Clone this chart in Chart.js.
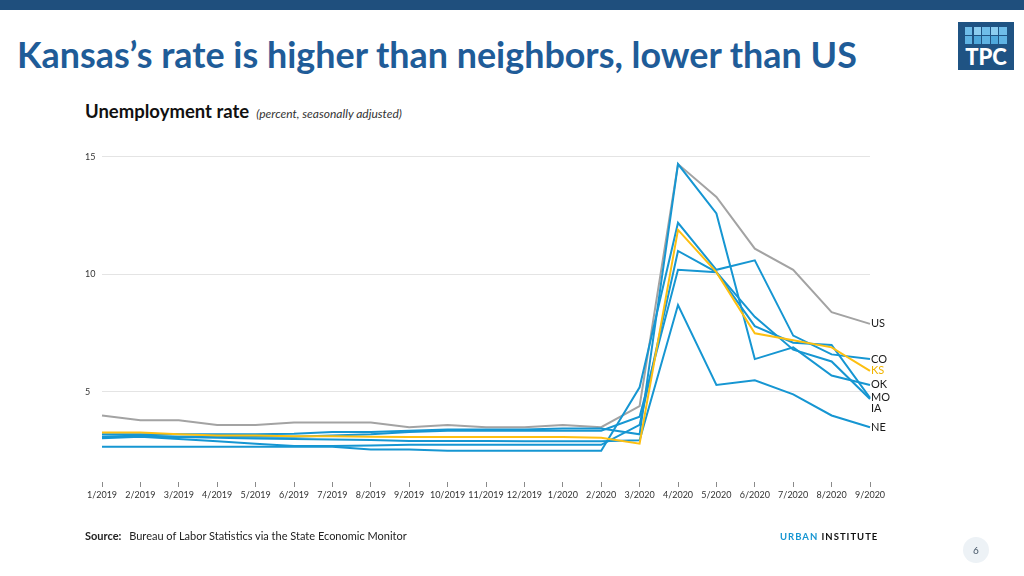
<!DOCTYPE html>
<html><head><meta charset="utf-8">
<script src="https://cdn.jsdelivr.net/npm/chart.js@4.4.1/dist/chart.umd.min.js"></script>
<style>
html,body{margin:0;padding:0;background:#fff;}
body{width:1024px;height:576px;position:relative;overflow:hidden;font-family:Lato,sans-serif;}
#bar{position:absolute;left:0;top:0;width:1024px;height:10px;background:#1f4f7d;}
#title{position:absolute;left:17px;top:34px;font-family:Lato;font-weight:700;font-size:36px;color:#1f5c98;white-space:nowrap;line-height:42px;}
#chartTitle{position:absolute;left:85px;top:99px;white-space:nowrap;line-height:24px;color:#111;}
#chartTitle b{font-family:Lato;font-weight:700;font-size:18.5px;}
#chartTitle i{font-family:Lato;font-style:italic;font-size:12px;color:#333;margin-left:7px;}
#source{position:absolute;left:85px;top:528px;font-family:Lato;font-size:11px;color:#222;white-space:nowrap;line-height:16px;}
#source b{font-weight:700;margin-right:5px;}
#urban{position:absolute;left:780px;top:530px;font-family:Lato;font-weight:700;font-size:9.5px;letter-spacing:1px;white-space:nowrap;line-height:14px;color:#111;}
#urban span{color:#1696d2;}
#page{position:absolute;left:963px;top:537px;width:26px;height:26px;border-radius:50%;background:#edf2f6;color:#456;font-family:Lato;font-size:10px;line-height:26px;text-align:center;}
#logo{position:absolute;left:958px;top:22px;width:56px;height:48px;background:#1f5383;}
#logo .sq{position:absolute;width:7.4px;height:8px;}
#logo .t{position:absolute;left:0;top:24px;width:56px;text-align:center;color:#fff;font-family:Lato;font-weight:900;font-size:22px;line-height:22px;letter-spacing:0px;}
canvas{position:absolute;left:0;top:0;}
</style></head>
<body>
<div id="bar"></div>
<div id="title">Kansas’s rate is higher than neighbors, lower than US</div>
<div id="logo"><div class="t">TPC</div></div>
<div id="chartTitle"><b>Unemployment rate</b><i>(percent, seasonally adjusted)</i></div>
<canvas id="c" width="1024" height="576"></canvas>
<div id="source"><b>Source:</b> Bureau of Labor Statistics via the State Economic Monitor</div>
<div id="urban"><span>URBAN</span> INSTITUTE</div>
<div id="page">6</div>
<script>
const months = ['1/2019','2/2019','3/2019','4/2019','5/2019','6/2019','7/2019','8/2019','9/2019','10/2019','11/2019','12/2019','1/2020','2/2020','3/2020','4/2020','5/2020','6/2020','7/2020','8/2020','9/2020'];
const usRate = [4.0,3.8,3.8,3.6,3.6,3.7,3.7,3.7,3.5,3.6,3.5,3.5,3.6,3.5,4.4,14.7,13.3,11.1,10.2,8.4,7.9];
const ksRate = [3.28,3.28,3.2,3.15,3.15,3.12,3.12,3.1,3.08,3.08,3.08,3.08,3.08,3.05,2.8,11.9,10.1,7.5,7.2,6.9,5.9];
const coRate = [2.67,2.67,2.67,2.67,2.67,2.67,2.67,2.55,2.55,2.5,2.5,2.5,2.5,2.5,5.2,12.2,10.2,10.6,7.4,6.6,6.4];
const okRate = [3.2,3.2,3.2,3.2,3.2,3.22,3.3,3.3,3.35,3.4,3.4,3.4,3.45,3.45,3.2,14.7,12.6,6.4,6.9,5.7,5.3];
const moRate = [3.1,3.15,3.1,3.1,3.1,3.1,3.15,3.2,3.3,3.35,3.35,3.35,3.35,3.35,3.95,10.2,10.1,7.8,7.1,7.0,4.75];
const iaRate = [3.03,3.1,3.0,2.9,2.8,2.7,2.7,2.72,2.75,2.75,2.75,2.75,2.75,2.75,3.6,11.0,10.1,8.2,6.8,6.3,4.7];
const neRate = [3.1,3.1,3.08,3.05,3.02,3.0,2.98,2.96,2.92,2.92,2.92,2.9,2.9,2.9,2.95,8.7,5.3,5.5,4.9,4.0,3.5];
const seriesLabels = ['KS','CO','OK','MO','IA','NE','US'];
const yTicks = [5,10,15];

const BLUE = '#1696d2', YELLOW = '#fdbf11', GRAY = '#a3a3a3';

(function(){
  const logo = document.getElementById('logo');
  for (let r=0;r<2;r++) for (let c=0;c<5;c++){
    const d=document.createElement('div'); d.className='sq';
    d.style.left=(7+c*8.6)+'px'; d.style.top=(5+r*9.2)+'px';
    d.style.background = r===0 ? (c%2? '#8ccdf0':'#6fbde9') : (c%2? '#4ea8dc':'#5fb3e3');
    logo.appendChild(d);
  }
})();

(function(){
  const t=document.getElementById('title');
  const w=t.getBoundingClientRect().width;
  t.style.fontSize=(36*840/w).toFixed(2)+'px';
})();

const endLabels = {
  id:'endLabels',
  afterDatasetsDraw(chart){
    const ctx=chart.ctx;
    const items=[];
    chart.data.datasets.forEach((ds,i)=>{
      const meta=chart.getDatasetMeta(i);
      const pt=meta.data[meta.data.length-1];
      items.push({text:ds.label,x:pt.x,y:pt.y,color:ds.label==='KS'?'#f0b400':'#1a1a1a'});
    });
    items.sort((a,b)=>a.y-b.y);
    for(let i=1;i<items.length;i++){
      if(items[i].y-items[i-1].y<11){items[i].y=items[i-1].y+11;}
    }
    ctx.save();
    ctx.font='11px Lato';
    ctx.textBaseline='middle';
    ctx.textAlign='left';
    items.forEach(it=>{ctx.fillStyle=it.color;ctx.fillText(it.text,it.x+1,it.y);});
    ctx.restore();
  }
};

const dataMap = {KS:ksRate,CO:coRate,OK:okRate,MO:moRate,IA:iaRate,NE:neRate,US:usRate};
const datasets = seriesLabels.map(l=>({
  label:l,
  data:dataMap[l],
  borderColor: l==='KS'?YELLOW:(l==='US'?GRAY:BLUE),
  borderWidth:2,
  pointRadius:0,
  tension:0,
  fill:false
}));

new Chart(document.getElementById('c'),{
  type:'line',
  data:{labels:months,datasets},
  options:{
    responsive:false,
    animation:false,
    devicePixelRatio:1,
    layout:{padding:{left:85,right:154,top:133.5,bottom:69}},
    plugins:{legend:{display:false},tooltip:{enabled:false}},
    scales:{
      x:{
        grid:{drawOnChartArea:false,drawTicks:true,tickLength:5,color:'#8a8a8a',lineWidth:1},
        border:{display:false},
        ticks:{autoSkip:false,maxRotation:0,minRotation:0,padding:3,font:{family:'Lato',size:9},color:'#333'},
        afterFit(s){s.height=25;}
      },
      y:{
        min:1.17,max:16,
        afterBuildTicks(s){s.ticks=yTicks.map(v=>({value:v}));},
        afterFit(s){s.width=17;},
        grid:{color:'#e4e4e4',lineWidth:1,drawTicks:false},
        border:{display:false},
        ticks:{padding:0,crossAlign:'far',font:{family:'Lato',size:9},color:'#333'}
      }
    }
  },
  plugins:[endLabels]
});
</script>
</body></html>
